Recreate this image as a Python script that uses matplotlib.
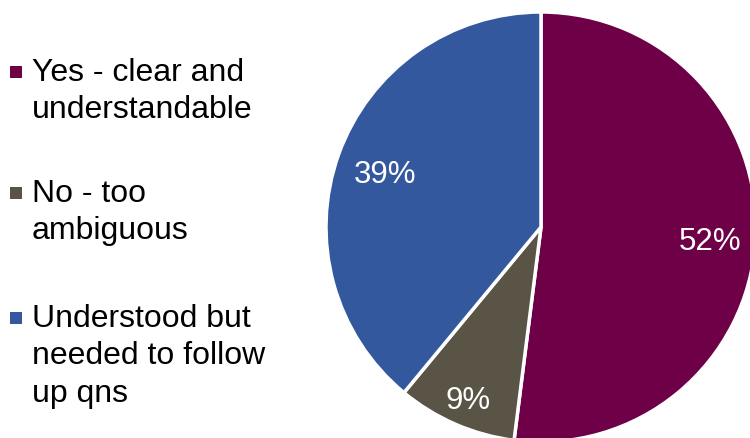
import matplotlib.pyplot as plt
from matplotlib.patches import Rectangle
import numpy as np

plt.rcParams['font.family'] = ['Liberation Sans', 'DejaVu Sans']

labels = ["Yes - clear and\nunderstandable", "No - too\nambiguous",
          "Understood but\nneeded to follow\nup qns"]
shares = [52, 9, 39]
colors = ["#6D0046", "#5A5446", "#33589E"]
label_dist = [0.79, 0.86, 0.77]

fig = plt.figure(figsize=(7.5, 4.39), dpi=100)
ax = fig.add_axes([0, 0, 1, 1])

# axes work in pixel units, y measured from the bottom
cx, cy, r = 541, 211, 215
wedges, _ = ax.pie(shares, colors=colors, startangle=90, counterclock=False,
                   center=(cx, cy), radius=r, frame=True,
                   wedgeprops=dict(edgecolor='white', linewidth=2.5))
ax.set_xlim(0, 750)
ax.set_ylim(0, 439)
ax.axis('off')

# percentage labels at the middle of each wedge
for w, v, d in zip(wedges, shares, label_dist):
    ang = np.deg2rad((w.theta1 + w.theta2) / 2)
    ax.text(cx + d * r * np.cos(ang), cy + d * r * np.sin(ang) - 3, f"{v}%",
            ha='center', va='center', color='white', fontsize=22.5)

# legend on the left: small square next to the first line of each label
first_baseline = [358.3, 237.3, 112.3]
line_step = 37.5
for lab, col, y0 in zip(labels, colors, first_baseline):
    ax.add_patch(Rectangle((10, y0 + 2), 12, 12, facecolor=col, edgecolor='none'))
    for i, line in enumerate(lab.split("\n")):
        ax.text(32, y0 - i * line_step, line, ha='left', va='baseline',
                fontsize=23, color='black')

fig.savefig("out.png", dpi=100)
